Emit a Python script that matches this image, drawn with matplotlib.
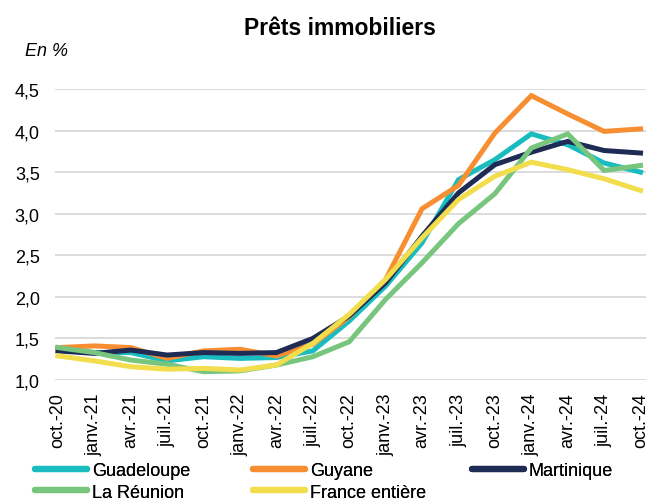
import numpy as np
import matplotlib
matplotlib.use("Agg")
import matplotlib.pyplot as plt
from matplotlib.lines import Line2D

plt.rcParams['font.family'] = ['Liberation Sans', 'DejaVu Sans']

mois = ["oct.-20", "janv.-21", "avr.-21", "juil.-21", "oct.-21", "janv.-22", "avr.-22",
        "juil.-22", "oct.-22", "janv.-23", "avr.-23", "juil.-23", "oct.-23", "janv.-24",
        "avr.-24", "juil.-24", "oct.-24"]

guadeloupe = [1.39, 1.33, 1.33, 1.23, 1.28, 1.26, 1.27, 1.35, 1.71, 2.13, 2.65, 3.41, 3.65, 3.96, 3.83, 3.61, 3.50]
guyane = [1.39, 1.41, 1.39, 1.26, 1.35, 1.37, 1.29, 1.43, 1.76, 2.21, 3.06, 3.34, 3.97, 4.42, 4.20, 3.99, 4.02]
martinique = [1.35, 1.32, 1.36, 1.30, 1.33, 1.32, 1.33, 1.50, 1.77, 2.17, 2.73, 3.25, 3.59, 3.74, 3.87, 3.76, 3.73]
reunion = [1.39, 1.33, 1.24, 1.19, 1.10, 1.11, 1.18, 1.28, 1.46, 1.97, 2.41, 2.88, 3.24, 3.79, 3.96, 3.52, 3.58]
france = [1.29, 1.23, 1.16, 1.13, 1.14, 1.12, 1.18, 1.44, 1.79, 2.21, 2.71, 3.17, 3.45, 3.62, 3.53, 3.42, 3.28]

series = [
    ("Guadeloupe", guadeloupe, "#19BCBF"),
    ("Guyane", guyane, "#F78E32"),
    ("Martinique", martinique, "#1E2B55"),
    ("La Réunion", reunion, "#78C57E"),
    ("France entière", france, "#F2DD4D"),
]

W, H = 646, 502
fig = plt.figure(figsize=(W / 100, H / 100), dpi=100)
ax = fig.add_axes([55 / W, (H - 381) / H, (646 - 55) / W, (381 - 90) / H])

x = np.arange(len(mois))
for name, vals, col in series:
    ax.plot(x, vals, color=col, lw=3.6, solid_joinstyle='miter', label=name)

ax.set_ylim(1.0, 4.5)
ax.set_xlim(-0.08, 16.15)
ax.set_yticks(np.arange(1.0, 4.51, 0.5))
ax.set_yticklabels([f"{v:.1f}".replace(".", ",") for v in np.arange(1.0, 4.51, 0.5)])
ax.set_xticks(x)
ax.set_xticklabels(mois, rotation=90, va='top', ha='center')
ax.tick_params(axis='both', length=0, labelsize=13, colors='black')
ax.tick_params(axis='y', pad=11)
ax.tick_params(axis='x', pad=9)
ax.grid(axis='y', color='#D9D9D9', lw=1.3)
ax.set_axisbelow(True)
for s in ax.spines.values():
    s.set_visible(False)

fig.text(340 / W, 1 - 29 / H, "Prêts immobiliers", ha='center', va='center',
         fontsize=16.5, fontweight='bold')
fig.text(25 / W, 1 - 52 / H, "En %", ha='left', va='center', fontsize=13, style='italic')

# legend: three columns placed like the original
cols = [(35, [0, 3]), (253, [1, 4]), (472, [2])]
for xpos, idx in cols:
    handles = [Line2D([], [], color=series[i][2], lw=4.5, solid_capstyle='round') for i in idx]
    labels = [series[i][0] for i in idx]
    leg = fig.legend(handles, labels, loc='upper left', bbox_to_anchor=(xpos / W, 1 - 463 / H),
                     frameon=False, fontsize=13, handlelength=2.9, handletextpad=0.25,
                     labelspacing=0.25, borderpad=0, borderaxespad=0)
    fig.add_artist(leg)

fig.savefig("out.png", dpi=100)
